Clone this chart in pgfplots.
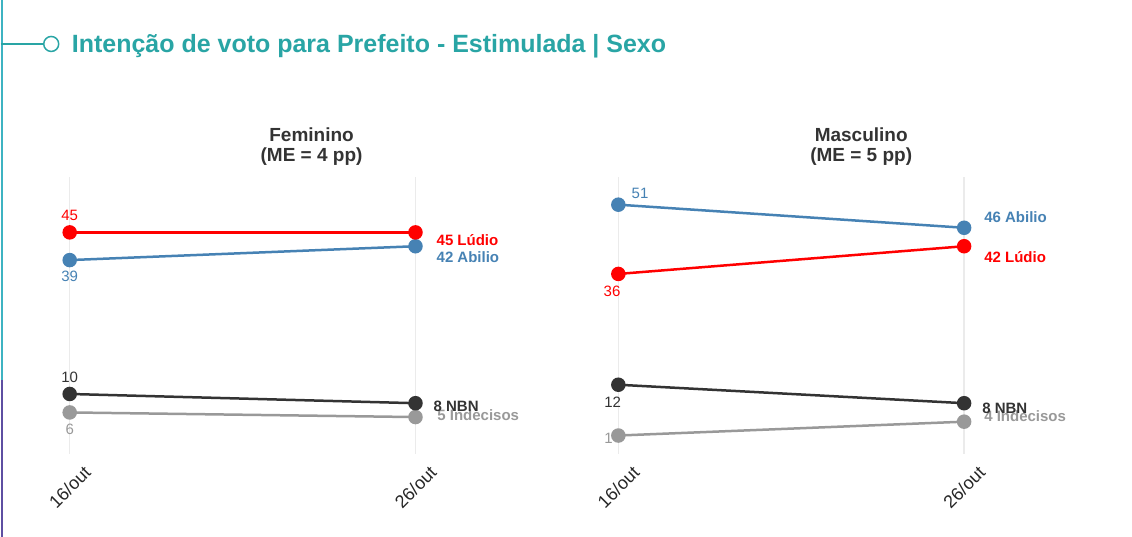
\documentclass[border=0pt]{standalone}
\usepackage{pgfplots}
\pgfplotsset{compat=1.18}
\usepackage{fontspec}
\setmainfont{Liberation Sans}
\definecolor{tealc}{HTML}{29A5A5}
\definecolor{linec}{HTML}{3DB3C2}
\definecolor{purpc}{HTML}{5E4FA2}
\definecolor{redc}{HTML}{FF0000}
\definecolor{bluec}{HTML}{4682B4}
\definecolor{darkc}{HTML}{333333}
\definecolor{grayc}{HTML}{999999}
\definecolor{gridc}{HTML}{EBEBEB}
\pgfplotsset{
  panel/.style={
    scale only axis, width=536.3pt, height=277.2pt,
    xmin=-0.1, xmax=1.45, ymin=-3, ymax=57,
    axis line style={draw=none},
    xtick={0,1}, xticklabels={16/out,26/out}, ytick=\empty,
    major tick length=0pt,
    xmajorgrids, grid style={draw=gridc, line width=1.5pt},
    clip=false, anchor=south west,
    xticklabel style={font=\fontsize{18}{21}\selectfont, text=black!85, yshift=-33pt, rotate=45, anchor=center},
    every axis plot/.append style={line width=2.5pt, mark=*, mark size=6pt},
  },
}
\tikzset{
  lab/.style={font=\fontsize{15}{18}\selectfont, inner sep=0pt, anchor=center},
  endlab/.style={font=\fontsize{15}{18}\selectfont\bfseries, inner sep=0pt, anchor=west},
}
\begin{document}
\begin{tikzpicture}
\fill[white] (0,0) rectangle (1132pt,537pt);
\fill[linec] (0,157pt) rectangle (2.5pt,537pt);
\fill[purpc] (0,0) rectangle (2.5pt,157pt);
\draw[tealc, line width=1.5pt] (0,493pt) -- (43pt,493pt);
\draw[tealc, line width=1.5pt, fill=white] (50.5pt,493pt) circle (7.5pt);
\node[anchor=base west, inner sep=0pt, font=\fontsize{25}{30}\selectfont\bfseries, text=tealc] at (71pt,484pt) {Intenção de voto para Prefeito - Estimulada | Sexo};

% Left panel: Feminino
\begin{axis}[panel, at={(34.4pt,82.7pt)}]
\addplot[color=grayc] coordinates {(0,6) (1,5)};
\addplot[color=darkc] coordinates {(0,10) (1,8)};
\addplot[color=bluec] coordinates {(0,39) (1,42)};
\addplot[color=redc] coordinates {(0,45) (1,45)};
\node[lab, text=redc, yshift=16.6pt] at (axis cs:0,45) {45};
\node[lab, text=bluec, yshift=-16.7pt] at (axis cs:0,39) {39};
\node[lab, text=darkc, yshift=16.6pt] at (axis cs:0,10) {10};
\node[lab, text=grayc, yshift=-17.3pt] at (axis cs:0,6) {6};
\node[endlab, text=redc, xshift=21pt, yshift=-7.5pt] at (axis cs:1,45) {45 Lúdio};
\node[endlab, text=bluec, xshift=21pt, yshift=-11.3pt] at (axis cs:1,42) {42 Abilio};
\node[endlab, text=grayc, xshift=21.7pt, yshift=2.3pt] at (axis cs:1,5) {5 Indecisos};
\node[endlab, text=darkc, xshift=18pt, yshift=-3.3pt] at (axis cs:1,8) {8 NBN};
\end{axis}

% Right panel: Masculino
\begin{axis}[panel, at={(583.4pt,82.7pt)}]
\addplot[color=grayc] coordinates {(0,1) (1,4)};
\addplot[color=darkc] coordinates {(0,12) (1,8)};
\addplot[color=redc] coordinates {(0,36) (1,42)};
\addplot[color=bluec] coordinates {(0,51) (1,46)};
\node[lab, text=bluec, xshift=21.7pt, yshift=11.5pt] at (axis cs:0,51) {51};
\node[lab, text=redc, xshift=-6.3pt, yshift=-17.6pt] at (axis cs:0,36) {36};
\node[lab, text=darkc, xshift=-5.7pt, yshift=-17.4pt] at (axis cs:0,12) {12};
\node[lab, text=grayc, xshift=-9.7pt, yshift=-2.5pt] at (axis cs:0,1) {1};
\node[endlab, text=bluec, xshift=20pt, yshift=11pt] at (axis cs:1,46) {46 Abilio};
\node[endlab, text=redc, xshift=20pt, yshift=-11.3pt] at (axis cs:1,42) {42 Lúdio};
\node[endlab, text=grayc, xshift=20pt, yshift=5.2pt] at (axis cs:1,4) {4 Indecisos};
\node[endlab, text=darkc, xshift=18pt, yshift=-5.6pt] at (axis cs:1,8) {8 NBN};
\end{axis}

% Panel titles
\node[anchor=base, inner sep=0pt, font=\fontsize{19}{22}\selectfont\bfseries, text=darkc] at (311pt,395.5pt) {Feminino};
\node[anchor=base, inner sep=0pt, font=\fontsize{19}{22}\selectfont\bfseries, text=darkc] at (311pt,375pt) {(ME = 4 pp)};
\node[anchor=base, inner sep=0pt, font=\fontsize{19}{22}\selectfont\bfseries, text=darkc] at (861pt,395.5pt) {Masculino};
\node[anchor=base, inner sep=0pt, font=\fontsize{19}{22}\selectfont\bfseries, text=darkc] at (861pt,375pt) {(ME = 5 pp)};
\end{tikzpicture}
\end{document}
